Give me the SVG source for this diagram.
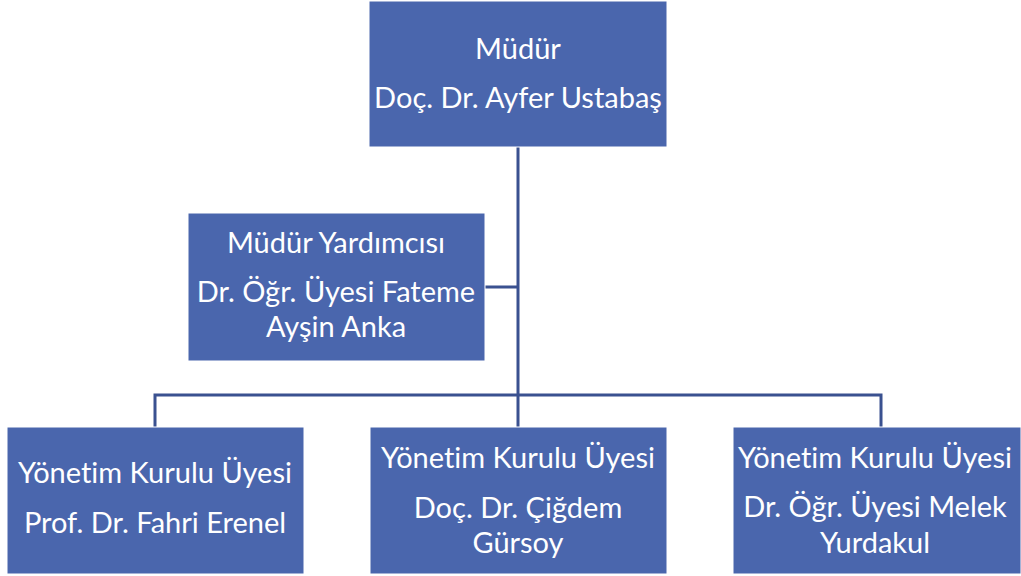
<svg xmlns="http://www.w3.org/2000/svg" width="1021" height="576" viewBox="0 0 1021 576">
<style>
.box{fill:#4A66AD;stroke:#ffffff;stroke-width:1}
.t{font-family:Lato,"Open Sans","Liberation Sans",sans-serif;font-size:29px;fill:#ffffff;text-anchor:middle;font-variant-ligatures:none;font-feature-settings:"liga" 0}
.c{fill:none;stroke:#3A5190;stroke-width:3}
</style>
<rect width="1021" height="576" fill="#ffffff"/>
<g id="connectors">
<path class="c" d="M518 147 V427"/>
<path class="c" d="M485 287 H518"/>
<path class="c" d="M155 427 V395 H881 V427"/>
</g>
<g id="mudur">
<rect class="box" x="369" y="1" width="298" height="146"/>
<text class="t" x="518" y="59">Müdür</text>
<text class="t" x="518" y="108">Doç. Dr. Ayfer Ustabaş</text>
</g>
<g id="yardimci">
<rect class="box" x="188" y="213" width="297" height="148"/>
<text class="t" x="336" y="253">Müdür Yardımcısı</text>
<text class="t" x="336" y="302">Dr. Öğr. Üyesi Fateme</text>
<text class="t" x="336" y="337">Ayşin Anka</text>
</g>
<g id="uye1">
<rect class="box" x="7" y="427" width="297" height="147"/>
<text class="t" x="155" y="483">Yönetim Kurulu Üyesi</text>
<text class="t" x="155" y="533">Prof. Dr. Fahri Erenel</text>
</g>
<g id="uye2">
<rect class="box" x="370" y="427" width="297" height="147"/>
<text class="t" x="518" y="468">Yönetim Kurulu Üyesi</text>
<text class="t" x="518" y="518">Doç. Dr. Çiğdem</text>
<text class="t" x="518" y="553">Gürsoy</text>
</g>
<g id="uye3">
<rect class="box" x="733" y="427" width="288" height="147"/>
<text class="t" x="875" y="468">Yönetim Kurulu Üyesi</text>
<text class="t" x="875" y="517">Dr. Öğr. Üyesi Melek</text>
<text class="t" x="875" y="553">Yurdakul</text>
</g>
</svg>
